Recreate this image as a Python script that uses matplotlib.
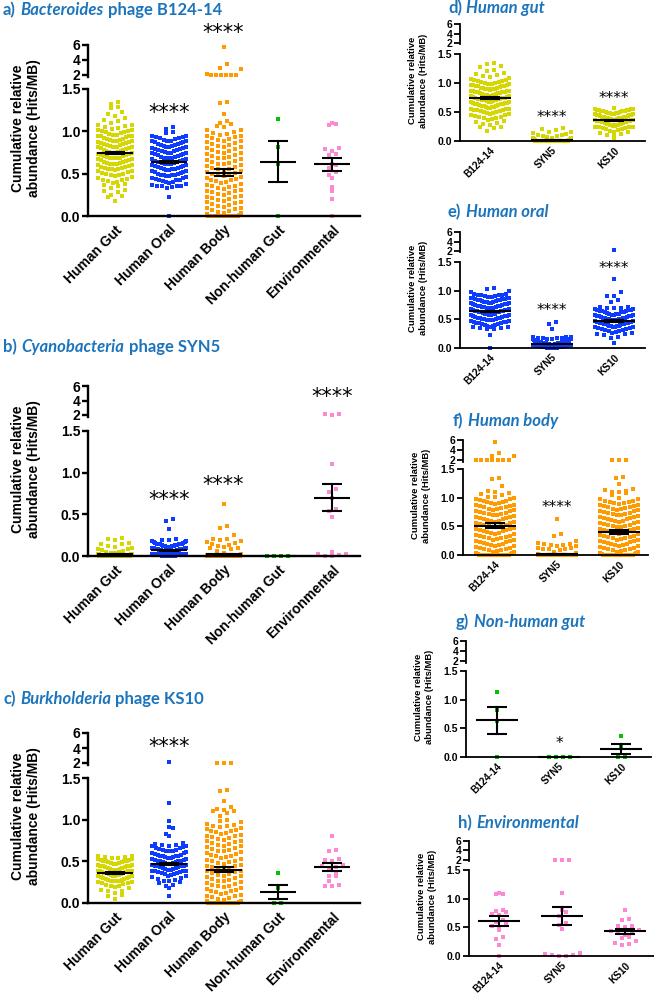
import numpy as np
import matplotlib
matplotlib.use("Agg")
import matplotlib.pyplot as plt

# ---------------- DATA ----------------
sources = ["Human Gut", "Human Oral", "Human Body", "Non-human Gut", "Environmental"]
phages = ["B124-14", "SYN5", "KS10"]

# B124-14 (Bacteroides phage)
b124_gut = [
    1.35, 1.32, 1.29, 1.28, 1.23, 1.21, 1.18, 1.16, 1.13, 1.12, 1.10,
    1.08, 1.07, 1.06, 1.05, 1.04, 1.03,
    1.02, 1.01, 1.00, 1.00, 0.99, 0.99, 0.98,
    0.97, 0.96, 0.96, 0.95, 0.95, 0.94, 0.94, 0.93,
    0.92, 0.91, 0.91, 0.90, 0.90, 0.89, 0.89, 0.88,
    0.87, 0.87, 0.86, 0.86, 0.85, 0.85, 0.84, 0.84,
    0.83, 0.82, 0.82, 0.81, 0.81, 0.80, 0.80, 0.79,
    0.78, 0.78, 0.77, 0.77, 0.76, 0.76, 0.75, 0.75,
    0.74, 0.73, 0.73, 0.72, 0.72, 0.71, 0.71, 0.70,
    0.69, 0.69, 0.68, 0.68, 0.67, 0.67, 0.66, 0.66,
    0.65, 0.64, 0.64, 0.63, 0.63, 0.62, 0.62, 0.61,
    0.60, 0.60, 0.59, 0.58, 0.58, 0.57, 0.57,
    0.56, 0.55, 0.55, 0.54, 0.53, 0.53, 0.52,
    0.51, 0.50, 0.50, 0.49, 0.48, 0.47,
    0.46, 0.45, 0.44, 0.43, 0.42, 0.41,
    0.40, 0.39, 0.38, 0.37, 0.35,
    0.33, 0.31, 0.30, 0.28, 0.25, 0.24, 0.22, 0.18,
]
b124_oral = [
    1.05, 1.03, 0.99, 0.98,
    0.95, 0.94, 0.93, 0.93, 0.92, 0.92, 0.91,
    0.90, 0.89, 0.89, 0.88, 0.88, 0.87, 0.87, 0.86,
    0.85, 0.85, 0.84, 0.84, 0.83, 0.83, 0.82, 0.82, 0.81,
    0.80, 0.80, 0.79, 0.79, 0.78, 0.78, 0.77, 0.77, 0.76,
    0.75, 0.75, 0.74, 0.74, 0.73, 0.73, 0.72, 0.72, 0.71,
    0.70, 0.70, 0.69, 0.69, 0.68, 0.68, 0.67, 0.67, 0.66,
    0.65, 0.65, 0.64, 0.64, 0.63, 0.63, 0.62, 0.62, 0.61,
    0.60, 0.60, 0.59, 0.59, 0.58, 0.58, 0.57, 0.57, 0.56,
    0.55, 0.55, 0.54, 0.54, 0.53, 0.53, 0.52, 0.52, 0.51,
    0.50, 0.50, 0.49, 0.49, 0.48, 0.48, 0.47, 0.47,
    0.46, 0.45, 0.45, 0.44, 0.43, 0.43, 0.42, 0.41,
    0.40, 0.40, 0.39, 0.38, 0.37, 0.36, 0.36, 0.35, 0.35, 0.34, 0.33,
    0.23, 0.00,
]
b124_body = [
    5.70, 3.50, 2.90, 2.80, 2.10, 2.05, 2.00, 2.00, 2.00, 2.00, 2.05,
    1.35, 1.33, 1.20, 1.12, 1.10, 1.09, 1.06, 1.05,
    1.02, 1.01, 0.99, 0.98, 0.97, 0.96, 0.95,
    0.94, 0.93, 0.92, 0.91, 0.90, 0.89, 0.88, 0.87,
    0.86, 0.85, 0.84, 0.83, 0.82, 0.81, 0.80, 0.79,
    0.78, 0.77, 0.76, 0.75, 0.74, 0.73, 0.72, 0.71,
    0.70, 0.69, 0.68, 0.67, 0.66, 0.65, 0.64, 0.63,
    0.62, 0.61, 0.60, 0.59, 0.58, 0.57, 0.56, 0.55,
    0.54, 0.53, 0.52, 0.51, 0.50, 0.49, 0.48, 0.47,
    0.46, 0.45, 0.44, 0.43, 0.42, 0.41, 0.40, 0.39,
    0.38, 0.37, 0.36, 0.35, 0.34, 0.33, 0.32, 0.31,
    0.30, 0.29, 0.28, 0.27, 0.26, 0.25, 0.24, 0.23,
    0.22, 0.21, 0.20, 0.19, 0.18, 0.17, 0.16, 0.15,
    0.14, 0.13, 0.12, 0.11, 0.10, 0.09, 0.08, 0.07,
    0.06, 0.05, 0.04, 0.03, 0.02, 0.01,
] + [0.0] * 20
b124_nhg = [1.14, 0.82, 0.62, 0.00]
b124_env = [1.10, 1.08, 1.09, 0.80, 0.77, 0.73, 0.72, 0.79, 0.62,
            0.60, 0.57, 0.52, 0.45, 0.48, 0.34, 0.30, 0.20, 0.00]

# SYN5 (Cyanobacteria phage)
syn5_gut = [
    0.22, 0.20, 0.19, 0.16, 0.15, 0.14, 0.12, 0.11, 0.10, 0.09, 0.08,
    0.07, 0.06, 0.05, 0.05, 0.04, 0.04, 0.03, 0.03, 0.03, 0.02, 0.02,
    0.02, 0.01, 0.01, 0.01,
] + [0.0] * 90
syn5_oral = [
    0.45, 0.42, 0.33, 0.20, 0.19, 0.19, 0.18, 0.18, 0.17, 0.17, 0.16, 0.16,
    0.15, 0.15, 0.15, 0.14, 0.14, 0.14, 0.13, 0.13, 0.13, 0.12, 0.12, 0.12,
    0.12, 0.11, 0.11, 0.11, 0.11, 0.10, 0.10, 0.10, 0.10, 0.10, 0.10,
    0.09, 0.09, 0.09, 0.09, 0.09, 0.09, 0.08, 0.08, 0.08, 0.08, 0.08, 0.08, 0.08,
    0.07, 0.07, 0.07, 0.07, 0.07, 0.07, 0.07, 0.06, 0.06, 0.06, 0.06, 0.06, 0.06,
    0.06, 0.05, 0.05, 0.05, 0.05, 0.05, 0.05, 0.05, 0.04, 0.04, 0.04, 0.04, 0.04,
    0.04, 0.04, 0.03, 0.03, 0.03, 0.03, 0.03, 0.03, 0.02, 0.02, 0.02, 0.02, 0.02,
    0.02, 0.01, 0.01, 0.01, 0.01, 0.01,
] + [0.0] * 12
syn5_body = [
    0.62, 0.36, 0.34, 0.25, 0.21, 0.20, 0.19, 0.18, 0.17, 0.16, 0.15,
    0.13, 0.12, 0.11, 0.10, 0.10, 0.08, 0.06, 0.04, 0.02, 0.01,
] + [0.0] * 150
syn5_nhg = [0.00, 0.00, 0.00, 0.00]
syn5_env = [2.10, 2.00, 2.10, 1.10, 0.80, 0.77, 0.70, 0.57, 0.54, 0.47,
            0.05, 0.03, 0.02, 0.01, 0.00, 0.00]

# KS10 (Burkholderia phage)
ks10_gut = [
    0.57, 0.56, 0.55, 0.55, 0.54, 0.54, 0.53, 0.53, 0.52, 0.52,
    0.51, 0.51, 0.50, 0.50, 0.49, 0.49, 0.48, 0.48, 0.47, 0.47,
    0.46, 0.46, 0.45, 0.45, 0.44, 0.44, 0.43, 0.43, 0.42, 0.42,
    0.41, 0.41, 0.40, 0.40, 0.40, 0.39, 0.39, 0.38, 0.38, 0.38,
    0.37, 0.37, 0.36, 0.36, 0.36, 0.35, 0.35, 0.34, 0.34, 0.34,
    0.33, 0.33, 0.32, 0.32, 0.31, 0.31, 0.30, 0.30, 0.29, 0.29,
    0.28, 0.28, 0.27, 0.27, 0.26, 0.26, 0.25, 0.25, 0.24, 0.24,
    0.23, 0.22, 0.21, 0.20, 0.19, 0.18, 0.16, 0.15, 0.14, 0.12,
    0.10, 0.08, 0.05,
]
ks10_oral = [
    2.20, 1.20, 0.98, 0.91, 0.90, 0.83, 0.80,
    0.72, 0.71, 0.70, 0.70, 0.69, 0.68, 0.68, 0.67, 0.66, 0.66,
    0.65, 0.64, 0.64, 0.63, 0.62, 0.62, 0.61, 0.60, 0.60,
    0.59, 0.58, 0.58, 0.57, 0.57, 0.56, 0.56, 0.55, 0.55, 0.54, 0.54,
    0.53, 0.53, 0.52, 0.52, 0.51, 0.51, 0.50, 0.50, 0.49, 0.49, 0.48,
    0.48, 0.47, 0.47, 0.46, 0.46, 0.45, 0.45, 0.44, 0.44, 0.43, 0.43,
    0.42, 0.42, 0.41, 0.41, 0.40, 0.40, 0.39, 0.39, 0.38, 0.38, 0.37,
    0.37, 0.36, 0.36, 0.35, 0.35, 0.34, 0.33, 0.32, 0.31, 0.30,
    0.29, 0.28, 0.27, 0.26, 0.25, 0.24, 0.22, 0.20, 0.18, 0.08,
]
ks10_body = [
    2.05, 2.00, 2.05, 1.36, 1.35, 1.23, 1.15, 1.13, 1.12, 1.10, 1.10, 1.08, 1.05,
    1.00, 0.98, 0.97, 0.95, 0.94, 0.93, 0.92, 0.91, 0.90,
    0.89, 0.88, 0.87, 0.86, 0.85, 0.84, 0.83, 0.82, 0.81,
    0.80, 0.79, 0.78, 0.77, 0.76, 0.75, 0.74, 0.73, 0.72,
    0.71, 0.70, 0.69, 0.68, 0.67, 0.66, 0.65, 0.64, 0.63,
    0.62, 0.61, 0.60, 0.59, 0.58, 0.57, 0.56, 0.55, 0.54,
    0.53, 0.52, 0.51, 0.50, 0.49, 0.48, 0.47, 0.46, 0.45,
    0.44, 0.43, 0.42, 0.41, 0.40, 0.39, 0.38, 0.37, 0.36,
    0.35, 0.34, 0.33, 0.32, 0.31, 0.30, 0.29, 0.28, 0.27,
    0.26, 0.25, 0.24, 0.23, 0.22, 0.21, 0.20, 0.19, 0.18,
    0.17, 0.16, 0.15, 0.14, 0.13, 0.12, 0.11, 0.10, 0.09,
    0.08, 0.07, 0.06, 0.05, 0.04, 0.03, 0.02, 0.01,
] + [0.0] * 20
ks10_nhg = [0.36, 0.18, 0.00, 0.00]
ks10_env = [0.81, 0.64, 0.62, 0.53, 0.50, 0.52, 0.46, 0.44, 0.43,
            0.40, 0.37, 0.33, 0.32, 0.26, 0.22, 0.20, 0.21]

# mean and SEM
b124_mean = [0.74, 0.64, 0.51, 0.64, 0.61]
b124_sem = [0.012, 0.010, 0.04, 0.24, 0.08]
syn5_mean = [0.02, 0.07, 0.02, 0.00, 0.70]
syn5_sem = [0.003, 0.005, 0.005, 0.0, 0.16]
ks10_mean = [0.36, 0.47, 0.40, 0.135, 0.43]
ks10_sem = [0.010, 0.015, 0.03, 0.085, 0.045]

# significance marks: (group index, y value, text)
b124_stars = [(1, 1.22, "****"), (2, 7.6, "****")]
syn5_stars = [(1, 0.67, "****"), (2, 0.85, "****"), (4, 4.5, "****")]
ks10_stars = [(1, 4.1, "****")]
gut_stars = [(1, 0.40, "****"), (2, 0.74, "****")]
oral_stars = [(1, 0.65, "****"), (2, 1.38, "****")]
body_stars = [(1, 0.82, "****")]
nhg_stars = [(1, 0.24, "*")]
env_stars = []

colors = ["#D6D600", "#0D3BFF", "#FF9A00", "#00C400", "#FF88D4"]
title_blue = "#1C75BC"

# ---------------- PLOT ----------------
W, H = 654, 994
fig = plt.figure(figsize=(W / 100, H / 100), dpi=100)
AX_FONT = "Liberation Sans"
TITLE_FONT = "Lato"


def fx(px):
    return px / W


def fy(py):
    return 1 - py / H


def swarm_offsets(pix, row_px, step, half):
    pix = np.asarray(pix, float)
    offs = np.zeros(len(pix))
    rows = np.round(pix / row_px)
    for r in np.unique(rows):
        idx = np.where(rows == r)[0]
        idx = idx[np.argsort(pix[idx], kind="stable")]
        n = len(idx)
        if n == 1:
            continue
        s = min(step, 2 * half / (n - 1))
        slots = (np.arange(n) - (n - 1) / 2) * s
        slots = slots[np.argsort(np.abs(slots), kind="stable")]
        offs[idx] = slots
    return offs


def draw_panel(box, groups, cols, labels, means, sems, stars, title, small):
    x_left, x_right, c0, dc, y6, y2, y15, y0 = box
    xlim = ((x_left - c0) / dc, (x_right - c0) / dc)
    ppu_lo = (y0 - y15) / 1.5
    ppu_hi = (y2 - y6) / 4.0
    y_lowbox = y2 + 0.4 * ppu_hi

    axl = fig.add_axes([fx(x_left), fy(y0), (x_right - x_left) / W, (y0 - y15) / H])
    axu = fig.add_axes([fx(x_left), fy(y_lowbox), (x_right - x_left) / W, (y_lowbox - y6) / H])
    axl.set_xlim(xlim)
    axl.set_ylim(0, 1.5)
    axu.set_xlim(xlim)
    axu.set_ylim(1.6, 6)

    tick_fs = 7.5 if small else 10
    xtick_fs = 7.2 if small else 10
    lab_fs = 6.8 if small else 10
    star_fs = 11 if small else 15
    spine_w = 1.3 if small else 1.7
    msize = 9.5 if small else 11
    half = 19 if small else 17
    mean_half = 21 if small else 18
    cap_half = 10

    for ax in (axl, axu):
        ax.patch.set_visible(False)
        for s in ("top", "right"):
            ax.spines[s].set_visible(False)
        ax.spines["left"].set_linewidth(spine_w)
        ax.tick_params(axis="y", length=4, width=spine_w, pad=1.5, labelsize=tick_fs)
    axu.spines["bottom"].set_visible(False)
    axu.set_xticks([])
    axu.spines["left"].set_bounds(1.7, 6)
    axu.set_yticks([2, 4, 6])
    axu.set_yticklabels(["2", "4", "6"], fontweight="bold", family=AX_FONT)
    axl.spines["bottom"].set_linewidth(spine_w)
    axl.spines["left"].set_bounds(0, 1.5)
    axl.set_yticks([0, 0.5, 1.0, 1.5])
    axl.set_yticklabels(["0.0", "0.5", "1.0", "1.5"], fontweight="bold", family=AX_FONT)
    axl.set_xticks(range(len(labels)))
    axl.set_xticklabels(labels, rotation=45, ha="right", rotation_mode="anchor",
                        fontsize=xtick_fs, fontweight="bold", family=AX_FONT)
    axl.tick_params(axis="x", length=0, pad=3 if small else 5)

    for i, (vals, col) in enumerate(zip(groups, cols)):
        v = np.asarray(vals, float)
        hi = v >= 1.75
        pix = np.where(hi, (y0 - y2) + (v - 2) * ppu_hi, v * ppu_lo)
        offs = swarm_offsets(pix, 6.0, 7.0, half)
        xs = i + offs / dc
        axl.scatter(xs[~hi], v[~hi], marker="s", s=msize, color=col,
                    linewidths=0, clip_on=False, zorder=2)
        axu.scatter(xs[hi], v[hi], marker="s", s=msize, color=col,
                    linewidths=0, clip_on=False, zorder=2)
        m, e = means[i], sems[i]
        mw = mean_half / dc
        cw = cap_half / dc
        axl.plot([i - mw, i + mw], [m, m], color="black", lw=1.5, zorder=3,
                 solid_capstyle="butt", clip_on=False)
        if e > 0:
            axl.plot([i, i], [m - e, m + e], color="black", lw=1.5, zorder=3, clip_on=False)
            axl.plot([i - cw, i + cw], [m + e, m + e], color="black", lw=1.5, zorder=3,
                     solid_capstyle="butt", clip_on=False)
            axl.plot([i - cw, i + cw], [m - e, m - e], color="black", lw=1.5, zorder=3,
                     solid_capstyle="butt", clip_on=False)

    for i, yv, txt in stars:
        ax = axu if yv >= 1.75 else axl
        ax.text(i, yv, txt, ha="center", va="center", fontsize=star_fs,
                family="DejaVu Sans", clip_on=False)

    # y label
    ylab_x = x_left - (42 if small else 62)
    fig.text(fx(ylab_x), fy((y6 + y0) / 2 - 2), "Cumulative relative\nabundance (Hits/MB)",
             rotation=90, ha="center", va="center", fontsize=lab_fs, fontweight="bold",
             family=AX_FONT, linespacing=1.15)

    # title: plain / italic / plain pieces
    tx, ty, parts, tfs = title
    t = fig.text(fx(tx), fy(ty), parts[0], ha="left", va="center", fontsize=tfs,
                 fontweight="bold", color=title_blue, family=TITLE_FONT)
    styles = ["italic", "normal"]
    for k, p in enumerate(parts[1:]):
        t = axl.annotate(p, xy=(1, 0), xycoords=t, xytext=(3.2, 0),
                         textcoords="offset points", ha="left", va="bottom",
                         fontsize=tfs, fontweight="bold", fontstyle=styles[k],
                         color=title_blue, family=TITLE_FONT, annotation_clip=False)
    return axl, axu


left = dict(x_left=88, x_right=360, c0=115, dc=54.3)
boxes_left = [(45, 75, 89, 216), (386, 415, 431, 556), (733, 763, 778, 903)]
title_y_left = [10, 347, 699]

all_groups = {
    "b124": [b124_gut, b124_oral, b124_body, b124_nhg, b124_env],
    "syn5": [syn5_gut, syn5_oral, syn5_body, syn5_nhg, syn5_env],
    "ks10": [ks10_gut, ks10_oral, ks10_body, ks10_nhg, ks10_env],
}
left_panels = [
    ("b124", b124_mean, b124_sem, b124_stars, ["a)", "Bacteroides", "phage B124-14"]),
    ("syn5", syn5_mean, syn5_sem, syn5_stars, ["b)", "Cyanobacteria", "phage SYN5"]),
    ("ks10", ks10_mean, ks10_sem, ks10_stars, ["c)", "Burkholderia", "phage KS10"]),
]
for (key, mns, sms, st, parts), yb, ty in zip(left_panels, boxes_left, title_y_left):
    box = (left["x_left"], left["x_right"], left["c0"], left["dc"]) + yb
    draw_panel(box, all_groups[key], colors, sources, mns, sms, st,
               (3, ty, parts, 12), small=False)

# right column: each source across the three phages
right_boxes = [
    (460, 645, 490, 62, 24, 43, 54, 141),
    (460, 645, 490, 62, 232, 251, 262, 348),
    (463, 648, 495, 62, 440, 460, 469, 555),
    (466, 651, 497, 62, 641, 661, 671, 757),
    (469, 654, 499, 63, 841, 860, 870, 956),
]
right_titles = [(448, 8, ["d)", "Human gut"]), (448, 212, ["e)", "Human oral"]),
                (453, 421, ["f)", "Human body"]), (456, 622, ["g)", "Non-human gut"]),
                (458, 823, ["h)", "Environmental"])]
right_stars = [gut_stars, oral_stars, body_stars, nhg_stars, env_stars]
for j in range(5):
    groups = [all_groups[k][j] for k in ("b124", "syn5", "ks10")]
    mns = [b124_mean[j], syn5_mean[j], ks10_mean[j]]
    sms = [b124_sem[j], syn5_sem[j], ks10_sem[j]]
    tx, ty, parts = right_titles[j]
    draw_panel(right_boxes[j], groups, [colors[j]] * 3, phages, mns, sms,
               right_stars[j], (tx, ty, parts, 12), small=True)

fig.savefig("out.png", dpi=100)
